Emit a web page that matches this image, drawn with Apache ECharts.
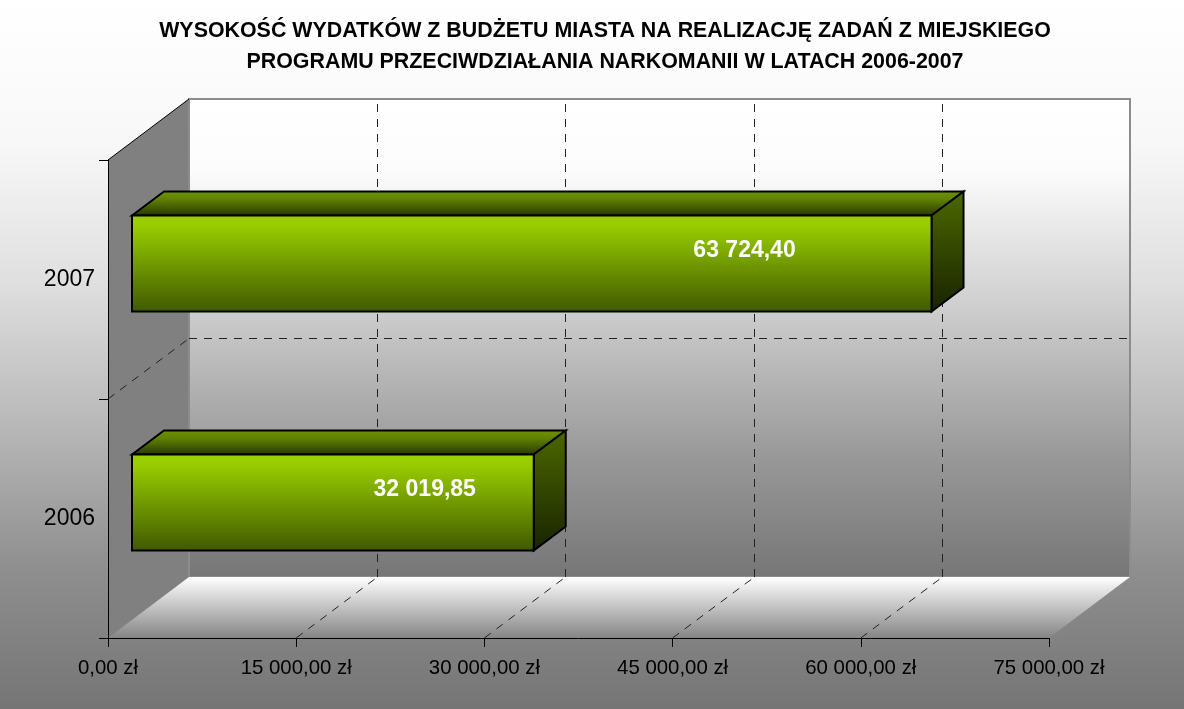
<!DOCTYPE html>
<html>
<head>
<meta charset="utf-8">
<style>
  html, body { margin: 0; padding: 0; }
  #chart { width: 1184px; height: 709px; }
</style>
<script src="https://cdn.jsdelivr.net/npm/echarts@6/dist/echarts.min.js"></script>
</head>
<body>
<div id="chart"></div>
<script>
  const categories = ['2006', '2007']
  const values = [32019.85, 63724.40]
  const valueLabels = ['32 019,85', '63 724,40']
  const xTicks = [0, 15000, 30000, 45000, 60000, 75000]
  const xTickLabels = ['0,00 zł', '15 000,00 zł', '30 000,00 zł', '45 000,00 zł', '60 000,00 zł', '75 000,00 zł']
  const titleText = 'WYSOKOŚĆ WYDATKÓW Z BUDŻETU MIASTA NA REALIZACJĘ ZADAŃ Z MIEJSKIEGO\nPROGRAMU PRZECIWDZIAŁANIA NARKOMANII W LATACH 2006-2007'

  // 3d look: how far the back wall and the bars sit from the axis plane
  const WALL_DX = 81
  const WALL_DY = -61
  const BAR_DX = 24
  const BAR_DY = -16
  const BAR_HEIGHT = 96
  const DEPTH_DX = 32
  const DEPTH_DY = -24
  // label distance from the bar end, 2006 and 2007
  const LABEL_BACK = [109, 187]
  const LABEL_DY = -13

  const gradient = (stops) => new echarts.graphic.LinearGradient(0, 0, 0, 1, stops.map((s) => ({ offset: s[0], color: s[1] })))
  // keeps 1px straight lines on one pixel row
  const crisp = (v) => Math.round(v) + 0.5

  function poly(points, fill, stroke, lineWidth) {
    return {
      type: 'polygon',
      shape: { points: points },
      style: { fill: fill, stroke: stroke || null, lineWidth: lineWidth || 0, lineJoin: 'miter' }
    }
  }

  function dashed(x1, y1, x2, y2) {
    return {
      type: 'line',
      shape: { x1: x1, y1: y1, x2: x2, y2: y2 },
      style: { stroke: '#222', lineWidth: 1, lineDash: [8, 7] }
    }
  }

  function renderWalls(params, api) {
    const rect = params.coordSys
    const left = rect.x
    const right = rect.x + rect.width
    const top = rect.y
    const bottom = rect.y + rect.height
    const children = []

    // left wall
    children.push(poly([[left, top], [left + WALL_DX, top + WALL_DY], [left + WALL_DX, bottom + WALL_DY], [left, bottom]], '#808080'))
    // back wall
    children.push({
      type: 'rect',
      shape: { x: left + WALL_DX, y: top + WALL_DY, width: rect.width, height: rect.height },
      style: {
        fill: gradient([[0, '#ffffff'], [0.15, '#fcfcfc'], [0.45, '#cccccc'], [0.75, '#989898'], [1, '#767676']]),
        stroke: '#8c8c8c',
        lineWidth: 2
      }
    })
    // floor
    children.push(poly([[left, bottom], [left + WALL_DX, bottom + WALL_DY], [right + WALL_DX, bottom + WALL_DY], [right, bottom]],
      gradient([[0, '#ffffff'], [1, '#858585']])))
    children.push({
      type: 'line',
      shape: { x1: left, y1: top, x2: left + WALL_DX, y2: top + WALL_DY },
      style: { stroke: '#000', lineWidth: 1 }
    })

    // dashed grid, skipping both ends of the value axis
    xTicks.slice(1, -1).forEach((tick) => {
      const x = api.coord([tick, 0])[0]
      const wallX = crisp(x + WALL_DX)
      children.push(dashed(x, bottom, wallX, bottom + WALL_DY))
      children.push(dashed(wallX, bottom + WALL_DY, wallX, top + WALL_DY))
    })
    const midY = (api.coord([0, 0])[1] + api.coord([0, 1])[1]) / 2
    const wallY = crisp(midY + WALL_DY)
    children.push(dashed(left, midY, left + WALL_DX, wallY))
    children.push(dashed(left + WALL_DX, wallY, right + WALL_DX, wallY))

    return { type: 'group', children: children }
  }

  function renderBar(params, api) {
    const start = api.coord([0, api.value(1)])
    const end = api.coord([api.value(0), api.value(1)])
    const x0 = start[0] + BAR_DX
    const x1 = end[0] + BAR_DX
    const y0 = start[1] + BAR_DY - BAR_HEIGHT / 2
    const y1 = y0 + BAR_HEIGHT

    return {
      type: 'group',
      children: [
        poly([[x0, y0], [x0 + DEPTH_DX, y0 + DEPTH_DY], [x1 + DEPTH_DX, y0 + DEPTH_DY], [x1, y0]],
          gradient([[0, '#6f9400'], [0.35, '#5f8000'], [1, '#263400']]), '#000', 2),
        poly([[x1, y0], [x1 + DEPTH_DX, y0 + DEPTH_DY], [x1 + DEPTH_DX, y1 + DEPTH_DY], [x1, y1]],
          gradient([[0, '#4d6800'], [1, '#182300']]), '#000', 2),
        poly([[x0, y0], [x1, y0], [x1, y1], [x0, y1]],
          gradient([[0, '#9ad000'], [0.12, '#98cc00'], [1, '#3f5800']]), '#000', 2),
        {
          type: 'text',
          style: {
            text: valueLabels[params.dataIndex],
            x: x1 - LABEL_BACK[params.dataIndex],
            y: (y0 + y1) / 2 + LABEL_DY,
            fill: '#fff',
            font: 'bold 23px "Liberation Sans", Arial, sans-serif',
            align: 'center',
            verticalAlign: 'middle'
          }
        }
      ]
    }
  }

  const chart = echarts.init(document.getElementById('chart'))

  chart.setOption({
    backgroundColor: gradient([[0, '#ffffff'], [0.2, '#f8f8f8'], [0.4, '#dfdfdf'], [0.6, '#b8b8b8'], [0.8, '#8f8f8f'], [1, '#757575']]),
    animation: false,
    title: {
      text: titleText,
      left: 600,
      top: 11,
      textAlign: 'center',
      textStyle: {
        fontFamily: '"Liberation Sans", Arial, sans-serif',
        fontWeight: 'bold',
        fontSize: 21.4,
        lineHeight: 31,
        color: '#000'
      }
    },
    grid: {
      left: 108,
      right: 135,
      top: 160,
      bottom: 71
    },
    xAxis: {
      type: 'value',
      min: 0,
      max: 75000,
      interval: 15000,
      z: 5,
      splitLine: { show: false },
      axisLine: { show: true, lineStyle: { color: '#000', width: 1 } },
      axisTick: { show: true, length: 9, lineStyle: { color: '#000', width: 1 } },
      axisLabel: {
        margin: 20,
        color: '#000',
        fontFamily: '"Liberation Sans", Arial, sans-serif',
        fontSize: 20.4,
        formatter: (value, index) => xTickLabels[index]
      }
    },
    yAxis: {
      type: 'category',
      data: categories,
      z: 5,
      axisLine: { show: true, lineStyle: { color: '#000', width: 1 } },
      axisTick: { show: true, length: 9, lineStyle: { color: '#000', width: 1 } },
      axisLabel: {
        margin: 13,
        padding: [2, 0, 0, 0],
        color: '#000',
        fontFamily: '"Liberation Sans", Arial, sans-serif',
        fontSize: 23
      }
    },
    series: [
      {
        type: 'custom',
        renderItem: renderWalls,
        clip: false,
        silent: true,
        z: 1,
        data: [[0, 0]]
      },
      {
        type: 'custom',
        renderItem: renderBar,
        clip: false,
        z: 3,
        encode: { x: 0, y: 1 },
        data: values.map((value, i) => [value, i])
      }
    ]
  })
</script>
</body>
</html>
